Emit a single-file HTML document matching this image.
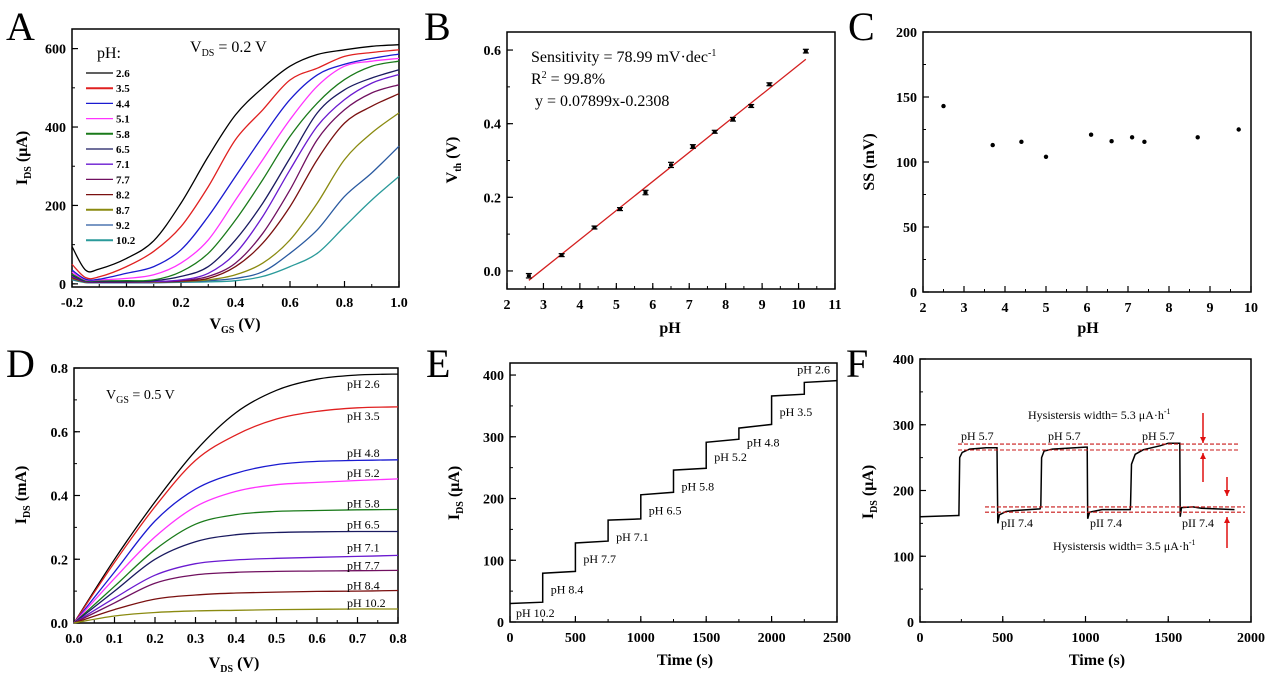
<!DOCTYPE html>
<html><head><meta charset="utf-8">
<style>
html,body{margin:0;padding:0;background:#fff;}
svg{display:block;font-family:"Liberation Serif",serif;}
.tk{font-weight:bold;font-size:14px;}
.ttl{font-weight:bold;font-size:16px;}
.pl{font-size:40px;}
.an{font-size:12px;}
</style></head>
<body>
<svg id="fig" width="1269" height="687" viewBox="0 0 1269 687" xmlns="http://www.w3.org/2000/svg"></svg>
<script>
// ---------- Panel A data ----------
const aVgs = [-0.2,-0.15,-0.1,0,0.1,0.2,0.3,0.4,0.5,0.6,0.7,0.8,0.9,1.0];
const aLabels = ["2.6","3.5","4.4","5.1","5.8","6.5","7.1","7.7","8.2","8.7","9.2","10.2"];
const aS26 = [95,35,38,65,110,206,325,431,500,555,585,597,606,610];
const aS35 = [50,16,18,44,83,146,248,368,444,520,550,580,590,597];
const aS44 = [35,12,12,27,44,87,172,274,376,470,533,560,575,586];
const aS51 = [30,10,10,14,23,53,112,214,317,419,504,555,568,575];
const aS58 = [25,8,8,8,10,31,78,163,266,376,461,521,555,568];
const aS65 = [22,7,6,6,8,19,44,112,206,321,436,495,525,546];
const aS71 = [20,6,5,5,6,10,27,78,172,291,402,470,512,534];
const aS77 = [18,5,5,5,5,8,19,53,129,240,368,444,487,508];
const aS82 = [16,5,4,4,5,7,14,44,104,197,317,410,453,485];
const aS87 = [14,4,4,4,4,6,10,23,53,112,206,317,385,436];
const aS92 = [12,4,3,3,3,5,8,14,31,78,138,223,283,351];
const aS102 = [10,3,3,3,3,4,5,8,19,44,78,146,214,274];
const aTicksX = [-0.2,0,0.2,0.4,0.6,0.8,1.0];
const aTicksY = [0,200,400,600];
// ---------- Panel B data ----------
const bPH = [2.6,3.5,4.4,5.1,5.8,6.5,7.1,7.7,8.2,8.7,9.2,10.2];
const bVth = [-0.013,0.043,0.118,0.168,0.213,0.288,0.338,0.378,0.412,0.448,0.507,0.597];
const bErr = [0.006,0.004,0.004,0.004,0.006,0.007,0.005,0.004,0.005,0.004,0.004,0.005];
const bSlope = 0.07899, bIntercept = -0.2308;
const bTicksX = [2,3,4,5,6,7,8,9,10,11];
const bTicksY = [0,0.2,0.4,0.6];
// ---------- Panel C data ----------
const cPH = [2.5,3.7,4.4,5.0,6.1,6.6,7.1,7.4,8.7,9.7];
const cSS = [143,113,115.5,104,121,116,119,115.5,119,125];
const cTicksX = [2,3,4,5,6,7,8,9,10];
const cTicksY = [0,50,100,150,200];
// ---------- Panel D data ----------
const dVds = [0,0.1,0.2,0.3,0.4,0.5,0.6,0.7,0.8];
const dLabels = ["pH 2.6","pH 3.5","pH 4.8","pH 5.2","pH 5.8","pH 6.5","pH 7.1","pH 7.7","pH 8.4","pH 10.2"];
const dS26 = [0,0.2,0.38,0.54,0.66,0.73,0.765,0.778,0.781];
const dS35 = [0,0.19,0.365,0.51,0.59,0.64,0.664,0.675,0.678];
const dS48 = [0,0.16,0.32,0.42,0.47,0.497,0.507,0.51,0.512];
const dS52 = [0,0.14,0.27,0.365,0.413,0.434,0.441,0.447,0.452];
const dS58 = [0,0.115,0.23,0.31,0.34,0.35,0.353,0.355,0.356];
const dS65 = [0,0.1,0.2,0.255,0.277,0.284,0.286,0.287,0.287];
const dS71 = [0,0.078,0.15,0.186,0.198,0.203,0.206,0.209,0.212];
const dS77 = [0,0.063,0.125,0.151,0.159,0.162,0.163,0.164,0.165];
const dS84 = [0,0.042,0.075,0.088,0.094,0.097,0.099,0.1,0.102];
const dS102 = [0,0.022,0.033,0.038,0.04,0.042,0.043,0.044,0.044];
const dTicksX = [0,0.1,0.2,0.3,0.4,0.5,0.6,0.7,0.8];
const dTicksY = [0,0.2,0.4,0.6,0.8];
// ---------- Panel E data ----------
const eStepStart = [0,250,500,750,1000,1250,1500,1750,2000,2250];
const eStepEnd = [250,500,750,1000,1250,1500,1750,2000,2250,2500];
const eStartI = [30,79,128,165,206,246,291,314,366,388];
const eEndI = [32,82,131,167,210,249,296,320,369,391];
const eLabels = ["pH 10.2","pH 8.4","pH 7.7","pH 7.1","pH 6.5","pH 5.8","pH 5.2","pH 4.8","pH 3.5","pH 2.6"];
const eTicksX = [0,500,1000,1500,2000,2500];
const eTicksY = [0,100,200,300,400];
// ---------- Panel F data ----------
const fT = [0,230,235,240,255,300,400,465,470,480,520,600,725,730,735,750,800,1000,1010,1013,1025,1100,1270,1272,1278,1300,1350,1450,1500,1570,1572,1580,1650,1700,1900];
const fI = [160,162,162,250,258,263,265,265,150,163,168,170,172,175,250,260,263,266,266,157,167,171,171,175,240,255,262,268,272,272,160,174,175,173,171];
const fHighBand = [261.6,270.7];
const fLowBand = [167,175];
const fTicksX = [0,500,1000,1500,2000];
const fTicksY = [0,100,200,300,400];

const svg = document.getElementById('fig');
const NS = 'http://www.w3.org/2000/svg';
function mk(tag, parent, attrs, name){
  const e = document.createElementNS(NS, tag);
  for (const k in attrs) e.setAttribute(k, attrs[k]);
  
  
  parent.appendChild(e);
  return e;
}
function scale(d0,d1,r0,r1){ return v => r0 + (v-d0)/(d1-d0)*(r1-r0); }
function smooth(pts){
  let d = 'M'+pts[0][0].toFixed(1)+','+pts[0][1].toFixed(1);
  for (let i=0;i<pts.length-1;i++){
    const p0=pts[Math.max(0,i-1)],p1=pts[i],p2=pts[i+1],p3=pts[Math.min(pts.length-1,i+2)];
    const c1=[p1[0]+(p2[0]-p0[0])/6,p1[1]+(p2[1]-p0[1])/6];
    const c2=[p2[0]-(p3[0]-p1[0])/6,p2[1]-(p3[1]-p1[1])/6];
    d+=' C'+c1[0].toFixed(1)+','+c1[1].toFixed(1)+' '+c2[0].toFixed(1)+','+c2[1].toFixed(1)+' '+p2[0].toFixed(1)+','+p2[1].toFixed(1);
  }
  return d;
}
function txt(parent, x, y, s, cls, name, anchor){
  const t = mk('text', parent, {x:x, y:y, class:cls||'', 'text-anchor':anchor||'start'}, name);
  t.innerHTML = s;
  return t;
}
function axes(id, fr, xd, yd, xt, yt, xminor, yminor, fmtX, fmtY){
  const g = mk('g', svg, {}, id+'-axes');
  const X = scale(xd[0],xd[1],fr.l,fr.r), Y = scale(yd[0],yd[1],fr.b,fr.t);
  mk('rect', g, {x:fr.l,y:fr.t,width:fr.r-fr.l,height:fr.b-fr.t,fill:'none',stroke:'#000','stroke-width':1.5}, id+'-frame');
  xt.forEach(v=>{ const x=X(v);
    mk('line', g, {x1:x,x2:x,y1:fr.b,y2:fr.b-6,stroke:'#000','stroke-width':1.2}, id+'-x-tick');
    txt(g, x, fr.b+20, fmtX(v), 'tk', id+'-x-tick-label', 'middle'); });
  for (let v=xd[0]; v<=xd[1]+1e-9; v+=xminor){ const x=X(v);
    mk('line', g, {x1:x,x2:x,y1:fr.b,y2:fr.b-3,stroke:'#000','stroke-width':1}, id+'-x-minor-tick'); }
  yt.forEach(v=>{ const y=Y(v);
    mk('line', g, {x1:fr.l,x2:fr.l+6,y1:y,y2:y,stroke:'#000','stroke-width':1.2}, id+'-y-tick');
    txt(g, fr.l-6, y+5, fmtY(v), 'tk', id+'-y-tick-label', 'end'); });
  for (let v=yt[0]; v<=yd[1]+1e-9; v+=yminor){ const y=Y(v);
    mk('line', g, {x1:fr.l,x2:fr.l+3,y1:y,y2:y,stroke:'#000','stroke-width':1}, id+'-y-minor-tick'); }
  return {X,Y,g};
}
function ytitle(x,y,html,name){ const t = mk('text', svg, {x:0,y:0,class:'ttl','text-anchor':'middle',transform:'translate('+x+','+y+') rotate(-90)'}, name); t.innerHTML=html; }
const sub = s => '<tspan dy="4" font-size="10">'+s+'</tspan><tspan dy="-4"> </tspan>';

// ===== Panel A =====
{
  const fr={l:72,r:399,t:29,b:287};
  const A = axes('panel-a', fr, [-0.2,1.0], [-8,650], aTicksX, aTicksY, 0.1, 100, v=>v.toFixed(1), v=>String(v));
  const series=[aS26,aS35,aS44,aS51,aS58,aS65,aS71,aS77,aS82,aS87,aS92,aS102];
  const cols=['#000','#e02020','#1a1ad0','#ff33ff','#1a7a1a','#1a1a60','#6a1ad0','#701060','#7a1010','#8a8a10','#2a5aa0','#2a9a9a'];
  series.slice().reverse().forEach((s,ri)=>{ const i=series.length-1-ri;
    const pts=aVgs.map((v,k)=>[A.X(v),A.Y(s[k])]);
    mk('path', A.g, {d:smooth(pts),fill:'none',stroke:cols[i],'stroke-width':1.3}, 'transfer-curve-ph-'+aLabels[i]); });
  txt(A.g, 97, 58, 'pH:', '', 'legend-title').setAttribute('font-size','16');
  const vt = txt(A.g, 190, 52, 'V'+sub('DS')+'= 0.2 V', '', 'vds-annotation'); vt.setAttribute('font-size','16');
  aLabels.forEach((l,i)=>{ const y=73+i*15.2;
    mk('line', A.g, {x1:86,x2:113,y1:y,y2:y,stroke:cols[i],'stroke-width':i===1||i===4||i===9||i===11?2:1.3}, 'legend-line-'+l);
    const t=txt(A.g, 116, y+4, l, '', 'legend-label-'+l); t.setAttribute('font-size','11'); t.setAttribute('font-weight','bold'); });
  txt(svg, 6, 40, 'A', 'pl', 'panel-label-a');
  ytitle(27,158,'I'+sub('DS')+'(μA)','y-axis-title-a');
  txt(svg, 235, 329, 'V'+sub('GS')+'(V)', 'ttl', 'x-axis-title-a', 'middle');
}
// ===== Panel B =====
{
  const fr={l:507,r:835,t:32,b:289};
  const B = axes('panel-b', fr, [2,11], [-0.049,0.649], bTicksX, bTicksY, 0.5, 0.1, v=>String(v), v=>v.toFixed(1));
  mk('line', B.g, {x1:B.X(2.6),y1:B.Y(bSlope*2.6+bIntercept),x2:B.X(10.2),y2:B.Y(bSlope*10.2+bIntercept),stroke:'#d42020','stroke-width':1.3}, 'fit-line');
  bPH.forEach((p,i)=>{ const x=B.X(p), y=B.Y(bVth[i]), e1=B.Y(bVth[i]+bErr[i]), e2=B.Y(bVth[i]-bErr[i]);
    mk('line', B.g, {x1:x,x2:x,y1:e1,y2:e2,stroke:'#000','stroke-width':1.2}, 'error-bar');
    mk('line', B.g, {x1:x-3,x2:x+3,y1:e1,y2:e1,stroke:'#000','stroke-width':1.2}, 'error-cap');
    mk('line', B.g, {x1:x-3,x2:x+3,y1:e2,y2:e2,stroke:'#000','stroke-width':1.2}, 'error-cap');
    mk('rect', B.g, {x:x-2,y:y-1.5,width:4,height:3,fill:'#000'}, 'vth-point'); });
  const s1=txt(B.g, 531, 62, 'Sensitivity = 78.99 mV·dec<tspan dy="-6" font-size="10">-1</tspan>', '', 'sensitivity-text'); s1.setAttribute('font-size','16');
  const s2=txt(B.g, 531, 84, 'R<tspan dy="-6" font-size="10">2</tspan><tspan dy="6"> = 99.8%</tspan>', '', 'r-squared-text'); s2.setAttribute('font-size','16');
  const s3=txt(B.g, 535, 106, 'y  = 0.07899x-0.2308', '', 'equation-text'); s3.setAttribute('font-size','16');
  txt(svg, 424, 40, 'B', 'pl', 'panel-label-b');
  ytitle(457,160,'V'+sub('th')+'(V)','y-axis-title-b');
  txt(svg, 670, 333, 'pH', 'ttl', 'x-axis-title-b', 'middle');
}
// ===== Panel C =====
{
  const fr={l:923,r:1251,t:32,b:292};
  const C = axes('panel-c', fr, [2,10], [0,200], cTicksX, cTicksY, 0.5, 25, v=>String(v), v=>String(v));
  cPH.forEach((p,i)=>{ mk('circle', C.g, {cx:C.X(p),cy:C.Y(cSS[i]),r:2.2,fill:'#000'}, 'ss-point'); });
  txt(svg, 848, 40, 'C', 'pl', 'panel-label-c');
  ytitle(874,162,'SS (mV)','y-axis-title-c');
  txt(svg, 1088, 333, 'pH', 'ttl', 'x-axis-title-c', 'middle');
}
// ===== Panel D =====
{
  const fr={l:74,r:398,t:368,b:623};
  const D = axes('panel-d', fr, [0,0.8], [0,0.8], dTicksX, dTicksY, 0.05, 0.1, v=>v.toFixed(1), v=>v.toFixed(1));
  const series=[dS26,dS35,dS48,dS52,dS58,dS65,dS71,dS77,dS84,dS102];
  const cols=['#000','#e02020','#1a1ad0','#ff33ff','#1a7a1a','#1a1a60','#6a1ad0','#701060','#7a1010','#8a8a10'];
  const labelOffsets=[14,13,-3,-2,-2,-3,-4,-1,-1,-2];
  series.forEach((s,i)=>{ const pts=dVds.map((v,k)=>[D.X(v),D.Y(s[k])]);
    mk('path', D.g, {d:smooth(pts),fill:'none',stroke:cols[i],'stroke-width':1.3}, 'output-curve-'+dLabels[i].replace(' ','-'));
    txt(D.g, 347, D.Y(s[s.length-1])+labelOffsets[i], dLabels[i], 'an', 'curve-label'); });
  const vt=txt(D.g, 106, 399, 'V'+sub('GS')+'= 0.5 V', '', 'vgs-annotation'); vt.setAttribute('font-size','14');
  txt(svg, 6, 377, 'D', 'pl', 'panel-label-d');
  ytitle(26,495,'I'+sub('DS')+'(mA)','y-axis-title-d');
  txt(svg, 234, 668, 'V'+sub('DS')+'(V)', 'ttl', 'x-axis-title-d', 'middle');
}
// ===== Panel E =====
{
  const fr={l:510,r:837,t:363,b:622};
  const E = axes('panel-e', fr, [0,2500], [0,419.5], eTicksX, eTicksY, 250, 50, v=>String(v), v=>String(v));
  let d='';
  eStepStart.forEach((t0,i)=>{ d += (i===0?'M':'L')+E.X(t0).toFixed(1)+','+E.Y(eStartI[i]).toFixed(1)+' L'+E.X(eStepEnd[i]).toFixed(1)+','+E.Y(eEndI[i]).toFixed(1)+' '; });
  mk('path', E.g, {d:d,fill:'none',stroke:'#000','stroke-width':1.5}, 'current-step-trace');
  eLabels.forEach((l,i)=>{ const last = i===eLabels.length-1;
    const x = last ? E.X(eStepStart[i])-7 : E.X(eStepStart[i])+(i===0?6:8);
    const y = last ? E.Y(eEndI[i])-7 : E.Y(eEndI[i])+(i===0?15:22);
    txt(E.g, x, y, l, 'an', 'step-label'); });
  txt(svg, 426, 377, 'E', 'pl', 'panel-label-e');
  ytitle(459,493,'I'+sub('DS')+'(μA)','y-axis-title-e');
  txt(svg, 685, 665, 'Time (s)', 'ttl', 'x-axis-title-e', 'middle');
}
// ===== Panel F =====
{
  const fr={l:920,r:1251,t:359,b:622};
  const F = axes('panel-f', fr, [0,2000], [0,400], fTicksX, fTicksY, 250, 50, v=>String(v), v=>String(v));
  const pts=fT.map((t,i)=>(i?'L':'M')+F.X(t).toFixed(1)+','+F.Y(fI[i]).toFixed(1)).join(' ');
  mk('path', F.g, {d:pts,fill:'none',stroke:'#000','stroke-width':1.5}, 'hysteresis-trace');
  fHighBand.forEach(v=>mk('line', F.g, {x1:958,x2:1240,y1:F.Y(v),y2:F.Y(v),stroke:'#c81818','stroke-width':1.1,'stroke-dasharray':'4,2'}, 'high-band-line'));
  fLowBand.forEach(v=>mk('line', F.g, {x1:985,x2:1245,y1:F.Y(v),y2:F.Y(v),stroke:'#c81818','stroke-width':1.1,'stroke-dasharray':'4,2'}, 'low-band-line'));
  function arrow(x,y1,y2,name){ mk('line', F.g, {x1:x,x2:x,y1:y1,y2:y2,stroke:'#e01010','stroke-width':1.5}, name);
    const dir = y2>y1?1:-1; mk('polygon', F.g, {points:(x-3)+','+(y2-6*dir)+' '+(x+3)+','+(y2-6*dir)+' '+x+','+y2,fill:'#e01010'}, name+'-head'); }
  arrow(1203,413,443,'arrow-high-down'); arrow(1203,482,453,'arrow-high-up');
  arrow(1227,477,496,'arrow-low-down'); arrow(1227,548,517,'arrow-low-up');
  [961,1048,1142].forEach(x=>txt(F.g, x, 440, 'pH 5.7', 'an', 'ph57-label'));
  [1001,1090,1182].forEach(x=>txt(F.g, x, 527, 'pII 7.4', 'an', 'ph74-label'));
  txt(F.g, 1028, 419, 'Hysistersis width= 5.3 μA·h<tspan dy="-5" font-size="8">-1</tspan>', 'an', 'hysteresis-high-text');
  txt(F.g, 1053, 550, 'Hysistersis width= 3.5 μA·h<tspan dy="-5" font-size="8">-1</tspan>', 'an', 'hysteresis-low-text');
  txt(svg, 846, 377, 'F', 'pl', 'panel-label-f');
  ytitle(873,492,'I'+sub('DS')+'(μA)','y-axis-title-f');
  txt(svg, 1097, 665, 'Time (s)', 'ttl', 'x-axis-title-f', 'middle');
}
</script>
</body></html>
